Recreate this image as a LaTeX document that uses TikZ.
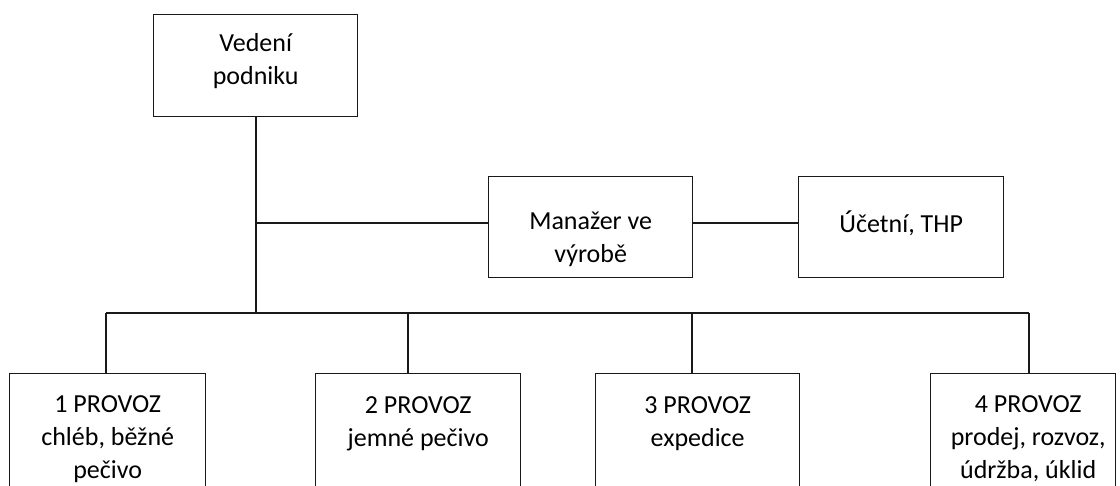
\documentclass[tikz,border=0pt]{standalone}
\usepackage{fontspec}
\setmainfont{Carlito}
\begin{document}
\begin{tikzpicture}[x=1pt,y=-1pt,
  box/.style={draw=black!90,line width=1.4pt,rectangle,inner sep=0pt,anchor=north west},
  lbl/.style={font=\fontsize{26}{33}\selectfont,align=center,text=black,inner sep=0pt},
  conn/.style={draw=black!90,line width=1.4pt}]
\useasboundingbox (0,0) rectangle (1120,485);
\clip (0,0) rectangle (1120,485);
\fill[white] (0,0) rectangle (1120,485);
% top
\node[box,minimum width=204pt,minimum height=102pt,
  label={[lbl,yshift=5pt]center:Vedení\\podniku}] (ved) at (153,14) {};
\node[box,minimum width=204pt,minimum height=101pt,
  label={[lbl,yshift=-12pt]center:Manažer ve\\výrobě}] (man) at (488,176) {};
\node[box,minimum width=205pt,minimum height=101pt,
  label={[lbl,yshift=4pt]center:Účetní, THP}] (uc) at (798,176) {};
% bottom
\node[box,minimum width=196pt,minimum height=130pt,
  label={[lbl,yshift=0pt]center:1 PROVOZ\\chléb, běžné\\pečivo}] (p1) at (9,373) {};
\node[box,minimum width=205pt,minimum height=130pt,
  label={[lbl,yshift=15pt]center:2 PROVOZ\\jemné pečivo}] (p2) at (315,373) {};
\node[box,minimum width=204pt,minimum height=130pt,
  label={[lbl,yshift=15pt]center:3 PROVOZ\\expedice}] (p3) at (595,373) {};
\node[box,minimum width=185pt,minimum height=130pt,
  label={[lbl,yshift=0pt,xshift=5pt]center:4 PROVOZ\\prodej, rozvoz,\\údržba, úklid}] (p4) at (930,373) {};
% connectors
\coordinate (j1) at (256,223);
\coordinate (b1) at (106,313);
\coordinate (b2) at (408,313);
\coordinate (b3) at (692,313);
\coordinate (b4) at (1029,313);
\coordinate (bt) at (256,313);
\draw[conn] (ved.south -| bt) -- (bt);
\draw[conn] (j1) -- (j1 -| man.west);
\draw[conn] (j1 -| man.east) -- (j1 -| uc.west);
\draw[conn] (b1) -- (b4);
\draw[conn] (b1) -- (b1 |- p1.north);
\draw[conn] (b2) -- (b2 |- p2.north);
\draw[conn] (b3) -- (b3 |- p3.north);
\draw[conn] (b4) -- (b4 |- p4.north);
\end{tikzpicture}
\end{document}
